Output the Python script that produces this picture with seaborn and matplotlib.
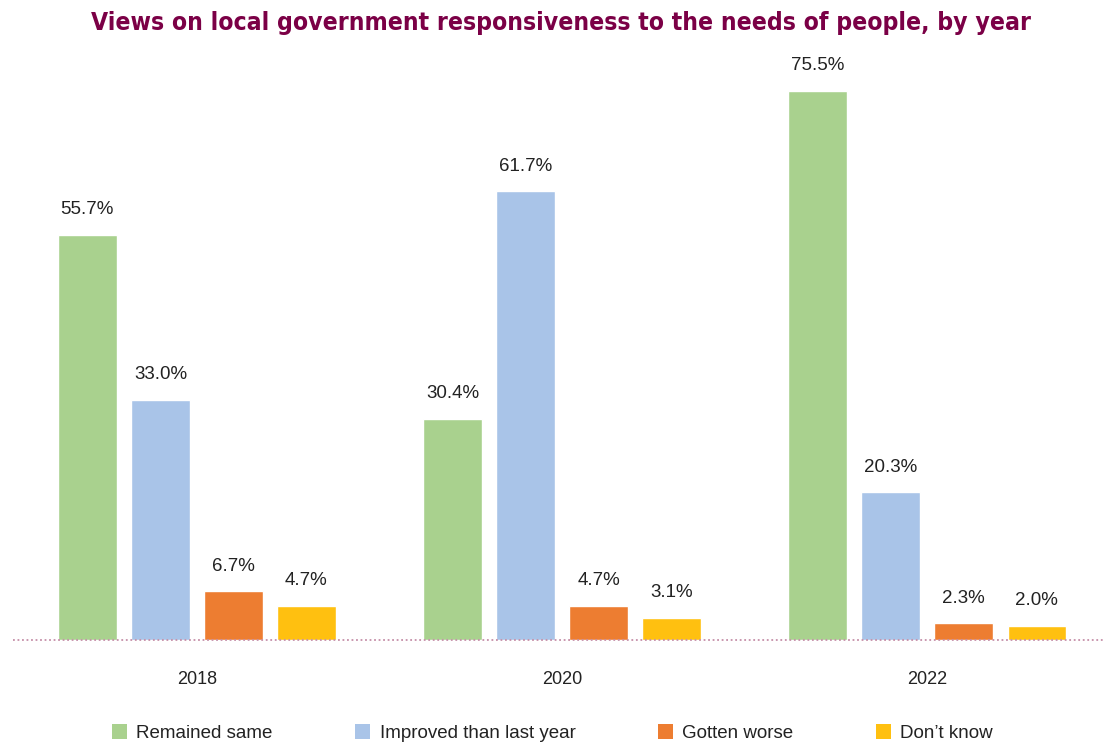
import matplotlib
matplotlib.use("Agg")
import matplotlib.pyplot as plt
import seaborn as sns
import pandas as pd
from matplotlib.patches import Patch

years = ["2018", "2020", "2022"]
responses = ["Remained same", "Improved than last year", "Gotten worse", "Don\u2019t know"]
remained_same = [55.7, 30.4, 75.5]
improved = [33.0, 61.7, 20.3]
gotten_worse = [6.7, 4.7, 2.3]
dont_know = [4.7, 3.1, 2.0]
palette = ["#A9D18E", "#A9C4E8", "#ED7D31", "#FFC010"]

rows = []
for resp, vals in zip(responses, [remained_same, improved, gotten_worse, dont_know]):
    for yr, v in zip(years, vals):
        rows.append({"Year": yr, "Response": resp, "Value": v})
df = pd.DataFrame(rows)

sns.set_theme(style="white")
plt.rcParams["font.family"] = ["Liberation Sans", "DejaVu Sans"]

fig = plt.figure(figsize=(11.05, 7.46), dpi=100)
ax = fig.add_axes([0.012, 0.142, 0.988, 0.78])

sns.barplot(data=df, x="Year", y="Value", hue="Response", hue_order=responses,
            order=years, palette=palette, width=0.8, gap=0.2, saturation=1,
            legend=False, ax=ax)

for cont in ax.containers:
    ax.bar_label(cont, fmt="%.1f%%", padding=12, fontsize=13.5, color="#222222")

ax.set_xlim(-0.503, 2.487)
ax.set_ylim(0, 80)
ax.set_xlabel("")
ax.set_ylabel("")
ax.set_yticks([])
for s in ax.spines.values():
    s.set_visible(False)
ax.axhline(0, color="#C58FA8", linestyle=(0, (1, 1.5)), linewidth=1.3, clip_on=False)
ax.tick_params(axis="x", length=0, pad=22, labelsize=13, labelcolor="#222222")

fig.text(0.508, 0.969, "Views on local government responsiveness to the needs of people, by year",
         ha="center", va="center", fontsize=17.7, fontweight="bold", color="#7B0046",
         fontstretch="condensed", family=["DejaVu Sans"])

handles = [Patch(facecolor=c, edgecolor="none") for c in palette]
fig.legend(handles, responses, loc="center", bbox_to_anchor=(0.5, 0.017), ncol=4,
           frameon=False, fontsize=13.5, handlelength=0.8, handleheight=0.8,
           handletextpad=0.5, columnspacing=4.4, labelcolor="#222222")

fig.savefig("out.png", dpi=100)
